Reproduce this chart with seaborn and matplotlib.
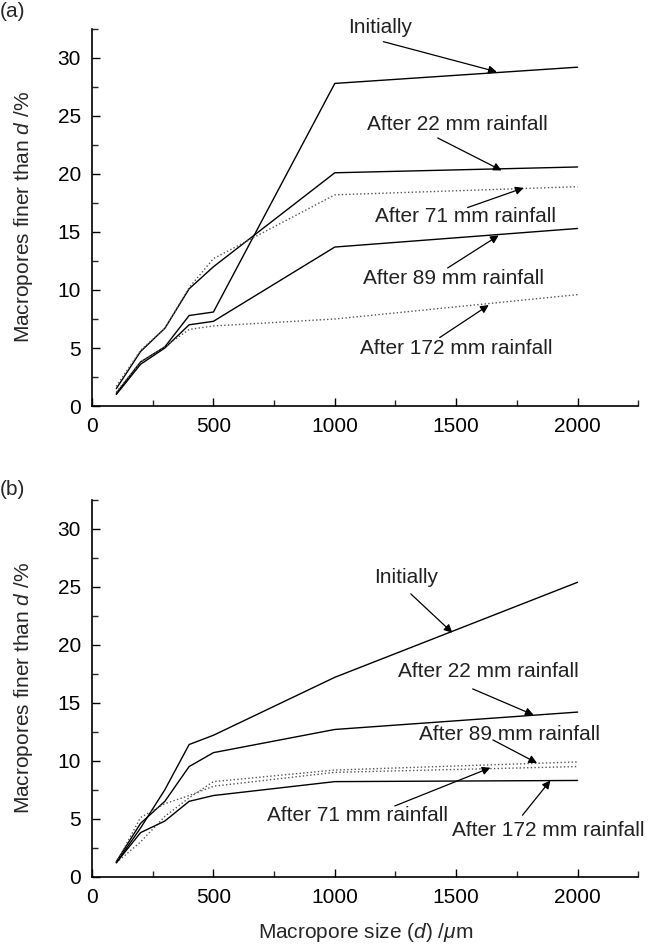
import numpy as np
import pandas as pd
import matplotlib
matplotlib.use("Agg")
import matplotlib.pyplot as plt
import seaborn as sns
from matplotlib.ticker import MultipleLocator

# pore size classes (um)
sizes = [100, 200, 300, 400, 500, 1000, 2000]
series_names = ["Initially", "After 22 mm rainfall", "After 71 mm rainfall",
                "After 89 mm rainfall", "After 172 mm rainfall"]

# panel (a)
a_initial = [1.1, 3.8, 5.1, 7.8, 8.1, 27.8, 29.2]
a_22mm = [1.5, 4.7, 6.7, 10.1, 12.0, 20.1, 20.6]
a_71mm = [1.7, 4.8, 6.7, 10.2, 12.7, 18.2, 18.9]
a_89mm = [1.0, 3.6, 5.0, 7.0, 7.3, 13.7, 15.3]
a_172mm = [1.2, 3.8, 5.1, 6.6, 6.9, 7.5, 9.6]

# panel (b)
b_initial = [1.2, 4.2, 7.5, 11.4, 12.2, 17.2, 25.4]
b_22mm = [1.3, 4.6, 6.5, 9.5, 10.7, 12.7, 14.2]
b_71mm = [1.2, 5.1, 6.3, 7.0, 7.8, 9.0, 9.5]
b_89mm = [1.2, 3.0, 5.2, 6.8, 8.2, 9.2, 9.9]
b_172mm = [1.2, 3.8, 4.8, 6.5, 7.0, 8.2, 8.3]

a_vals = [a_initial, a_22mm, a_71mm, a_89mm, a_172mm]
b_vals = [b_initial, b_22mm, b_71mm, b_89mm, b_172mm]

# line styles: (color, linestyle)
a_styles = [("black", "-"), ("black", "-"), ("#555555", ":"), ("black", "-"), ("#555555", ":")]
b_styles = [("black", "-"), ("black", "-"), ("#555555", ":"), ("#555555", ":"), ("black", "-")]

# annotations: label, text position, arrow tail, arrow head (data coords)
a_notes = [
    ("Initially", (1185, 32.6), (1200, 31.4), (1667, 28.8)),
    ("After 22 mm rainfall", (1506, 24.3), (1424, 23.1), (1687, 20.3)),
    ("After 71 mm rainfall", (1539, 16.3), (1547, 17.1), (1778, 18.8)),
    ("After 89 mm rainfall", (1490, 11.0), (1465, 11.9), (1675, 14.7)),
    ("After 172 mm rainfall", (1502, 5.0), (1432, 5.9), (1634, 8.7)),
]
b_notes = [
    ("Initially", (1292, 25.8), (1313, 24.4), (1484, 21.05)),
    ("After 22 mm rainfall", (1631, 17.7), (1568, 16.2), (1819, 13.95)),
    ("After 89 mm rainfall", (1720, 12.3), (1651, 11.8), (1833, 9.8)),
    ("After 71 mm rainfall", (1093, 5.3), (1247, 6.1), (1641, 9.4)),
    ("After 172 mm rainfall", (1878, 4.0), (1773, 5.3), (1888, 8.3)),
]

sns.set_theme(style="ticks")
plt.rcParams['font.family'] = ['Liberation Sans', 'DejaVu Sans']
plt.rcParams['mathtext.fontset'] = 'custom'
plt.rcParams['mathtext.rm'] = 'Liberation Sans'
plt.rcParams['mathtext.it'] = 'Liberation Sans:italic'
plt.rcParams['mathtext.default'] = 'it'

FS = 15

fig = plt.figure(figsize=(6.48, 9.5), dpi=100)
ax_a = fig.add_axes([0.142, 0.5726, 0.843, 0.397])
ax_b = fig.add_axes([0.142, 0.0772, 0.843, 0.3965])


def draw_panel(ax, vals, styles, notes):
    for name, v, (col, ls) in zip(series_names, vals, styles):
        df = pd.DataFrame({"size": sizes, "pct": v})
        sns.lineplot(data=df, x="size", y="pct", ax=ax, color=col,
                     linestyle=ls, linewidth=1.0, sort=False)
    for label, txt, tail, head in notes:
        ax.annotate("", xy=head, xytext=tail,
                    arrowprops=dict(arrowstyle="-|>", color="black", lw=0.9,
                                    mutation_scale=12, shrinkA=0, shrinkB=0),
                    annotation_clip=False)
        ax.text(txt[0], txt[1], label, ha="center", va="center",
                fontsize=FS, color="#222222", clip_on=False)
    ax.set_xlim(0, 2250)
    ax.set_ylim(0, 32.5)
    ax.xaxis.set_major_locator(MultipleLocator(500))
    ax.xaxis.set_minor_locator(MultipleLocator(250))
    ax.yaxis.set_major_locator(MultipleLocator(5))
    ax.yaxis.set_minor_locator(MultipleLocator(2.5))
    ax.set_xticks([0, 500, 1000, 1500, 2000])
    ax.tick_params(which="major", direction="in", length=6, width=1.0,
                   labelsize=FS, colors="black", pad=8)
    ax.tick_params(which="minor", direction="in", length=4, width=1.0)
    sns.despine(ax=ax)
    for s in ["left", "bottom"]:
        ax.spines[s].set_linewidth(1.2)
        ax.spines[s].set_color("black")
    ax.set_ylabel("Macropores finer than $d$ /%", fontsize=FS, labelpad=16)
    ax.set_xlabel("")


draw_panel(ax_a, a_vals, a_styles, a_notes)
draw_panel(ax_b, b_vals, b_styles, b_notes)

ax_b.set_xlabel(r"Macropore size ($d$) /$\mu$m", fontsize=FS, labelpad=10)

fig.text(0.0, 0.998, "(a)", fontsize=FS, ha="left", va="top")
fig.text(0.0, 0.495, "(b)", fontsize=FS, ha="left", va="top")

fig.savefig("out.png", dpi=100)
